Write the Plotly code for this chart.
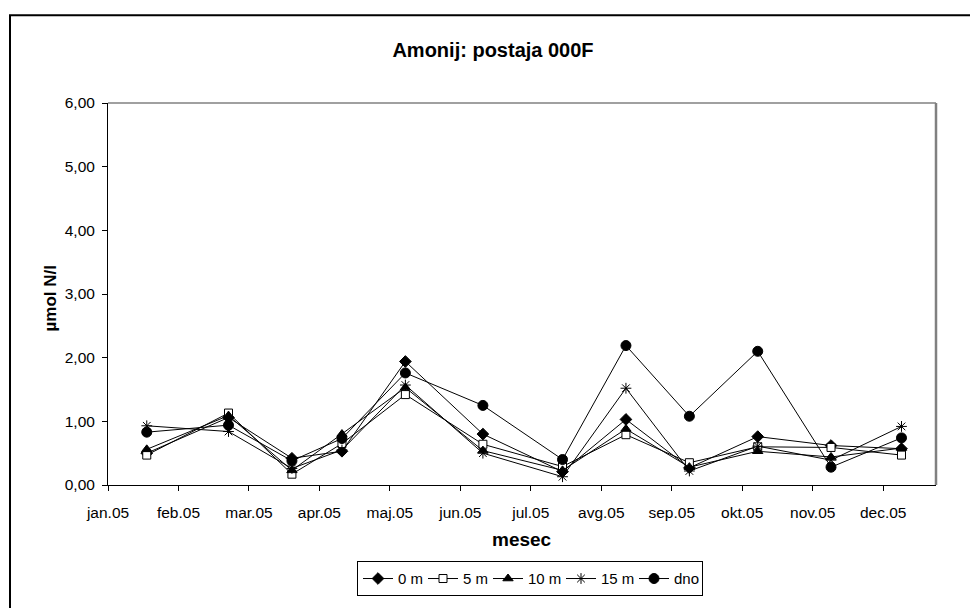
import plotly.graph_objects as go

# Month tick labels (x = 0 corresponds to the start of January)
month_labels = ["jan.05", "feb.05", "mar.05", "apr.05", "maj.05", "jun.05",
                "jul.05", "avg.05", "sep.05", "okt.05", "nov.05", "dec.05"]

# Sampling dates expressed as months since 1 January 2005
sample_month = [0.55, 1.71, 2.61, 3.32, 4.22, 5.32, 6.45, 7.35, 8.25, 9.22, 10.26, 11.26]

# Ammonium concentration (µmol N/l) by depth
depth_0m = [0.50, 1.06, 0.42, 0.53, 1.94, 0.80, 0.21, 1.03, 0.27, 0.76, 0.62, 0.57]
depth_5m = [0.47, 1.13, 0.17, 0.65, 1.42, 0.64, 0.29, 0.79, 0.35, 0.60, 0.59, 0.47]
depth_10m = [0.56, 1.09, 0.23, 0.80, 1.53, 0.54, 0.23, 0.88, 0.28, 0.53, 0.44, 0.58]
depth_15m = [0.93, 0.84, 0.26, 0.55, 1.57, 0.50, 0.13, 1.52, 0.22, 0.61, 0.39, 0.92]
depth_bottom = [0.83, 0.94, 0.38, 0.73, 1.76, 1.25, 0.40, 2.19, 1.08, 2.10, 0.28, 0.74]

series_names = ["0 m", "5 m", "10 m", "15 m", "dno"]
series_values = [depth_0m, depth_5m, depth_10m, depth_15m, depth_bottom]
series_markers = [
    dict(symbol="diamond", size=9, color="black", line=dict(color="black", width=1)),
    dict(symbol="square", size=8, color="white", line=dict(color="black", width=1)),
    dict(symbol="triangle-up", size=9, color="black", line=dict(color="black", width=1)),
    dict(symbol="asterisk-open", size=9, color="black", line=dict(color="black", width=1)),
    dict(symbol="circle", size=10, color="black", line=dict(color="black", width=1)),
]
# compact legend entries (px reserved for each label)
legend_entry_px = [20, 20, 28, 28, 23]

fig = go.Figure()
for name, vals, mk, lw in zip(series_names, series_values, series_markers, legend_entry_px):
    fig.add_trace(go.Scatter(
        x=sample_month, y=vals, name=name, mode="lines+markers",
        line=dict(color="black", width=1), marker=mk, legendwidth=lw,
    ))

FONT = "Liberation Sans, Arial, sans-serif"

# Plot area: 108..936 px horizontally, 103..490 px vertically
L, R, T, B = 108, 936, 103, 490
W, H = R - L, B - T


def px(xp):
    return (xp - L) / W


def py(yp):
    return (B - yp) / H


fig.update_layout(
    width=970, height=608,
    margin=dict(l=L, r=970 - R, t=T, b=608 - B, pad=0),
    paper_bgcolor="white", plot_bgcolor="white",
    separators=", ",
    font=dict(family=FONT, color="black", size=15),
    title=dict(text="<b>Amonij: postaja 000F</b>", x=493 / 970, xref="container",
               xanchor="center", y=1 - 50 / 608, yref="container", yanchor="middle",
               font=dict(family=FONT, size=20, color="black")),
    xaxis=dict(range=[0, W / 70.47], tickvals=list(range(12)), ticktext=month_labels,
               showgrid=False, zeroline=False, showline=True, linecolor="black",
               linewidth=1, ticks="outside", ticklen=5, tickcolor="black",
               tickfont=dict(size=15.5), ticklabelstandoff=8),
    yaxis=dict(range=[0, 6], dtick=1, tickformat=".2f",
               showgrid=False, zeroline=False, showline=True, linecolor="black",
               linewidth=1, ticks="outside", ticklen=5, tickcolor="black",
               tickfont=dict(size=15.5), ticklabelstandoff=4),
    legend=dict(orientation="h", x=px(530), xanchor="center", y=py(585), yanchor="middle",
                bordercolor="black", borderwidth=1, bgcolor="white",
                font=dict(size=15), itemwidth=30, tracegroupgap=0),
    showlegend=True,
    shapes=[
        # outer chart frame
        dict(type="rect", xref="paper", yref="paper", x0=px(10), x1=px(990),
             y0=py(630), y1=py(14), line=dict(color="black", width=2), layer="below"),
        # plot area border (top and right)
        dict(type="line", xref="paper", yref="paper", x0=0, x1=1, y0=1, y1=1,
             line=dict(color="#808080", width=1.5)),
        dict(type="line", xref="paper", yref="paper", x0=1, x1=1, y0=0, y1=1,
             line=dict(color="#808080", width=2.5)),
    ],
    annotations=[
        dict(text="<b>mesec</b>", xref="paper", yref="paper", x=px(522), y=py(545),
             xanchor="center", yanchor="middle", showarrow=False,
             font=dict(family=FONT, size=19, color="black")),
        dict(text="<b>µmol N/l</b>", xref="paper", yref="paper", x=px(50), y=py(301),
             xanchor="center", yanchor="middle", showarrow=False, textangle=-90,
             font=dict(family=FONT, size=17, color="black")),
    ],
)

fig.write_html("out.html")
